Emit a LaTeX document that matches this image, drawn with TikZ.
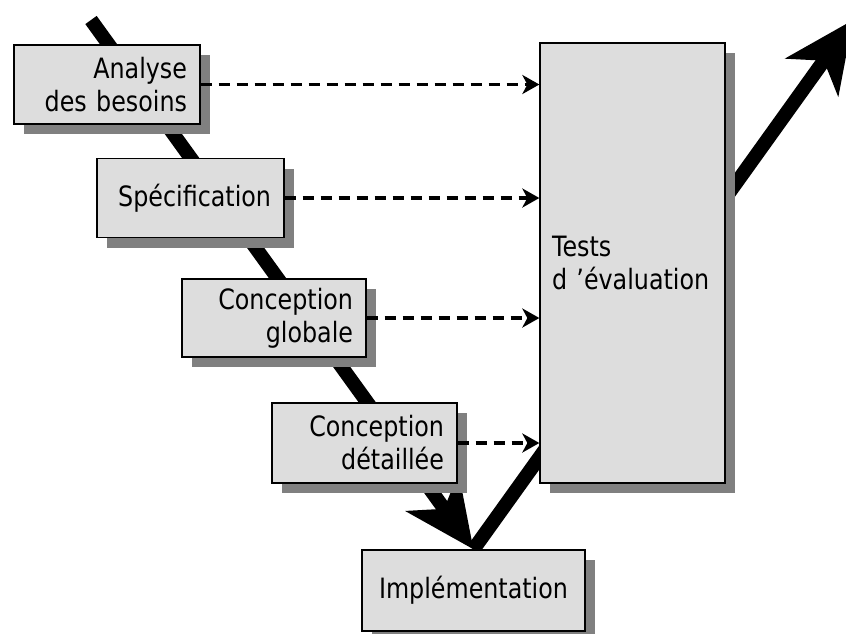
\documentclass[tikz,border=0pt]{standalone}
\usepackage{fontspec}
\setmainfont{DejaVu Sans}[FakeStretch=0.85]
\usetikzlibrary{arrows.meta,shadows,backgrounds}
\definecolor{boxgray}{HTML}{DDDDDD}
\definecolor{shadowgray}{HTML}{808080}
\begin{document}
\begin{tikzpicture}[x=1pt,y=-1pt,
  stagebox/.style={draw=black, line width=1.3pt, fill=boxgray,
    inner xsep=13pt, inner ysep=0pt,
    font=\fontsize{28}{33}\selectfont,
    general shadow={fill=shadowgray, shadow xshift=10pt, shadow yshift=-10pt}},
  rightbox/.style={stagebox, align=right},
  dasharrow/.style={draw=black, line width=3.6pt, dash pattern=on 11pt off 7pt,
    -{Stealth[length=17pt, width=19pt, inset=5pt]}},
  bigarrow/.style={draw=black, line width=14pt,
    -{Stealth[length=70pt, width=64pt, inset=20pt]}}]
\useasboundingbox (0,0) rectangle (846,633);

\node[rightbox, text width=160pt, minimum width=186pt, minimum height=79pt] (ana) at (107,84.5) {Analyse\\des besoins};
\node[rightbox, text width=161pt, minimum width=187pt, minimum height=79pt] (spec) at (190.5,198) {Spécification};
\node[rightbox, text width=158pt, minimum width=184pt, minimum height=78pt] (cg) at (274,318) {Conception\\globale};
\node[rightbox, text width=159pt, minimum width=185pt, minimum height=80pt] (cd) at (364.5,443) {Conception\\détaillée};
\node[stagebox, align=center, text width=197pt, minimum width=223pt, minimum height=81pt] (impl) at (473.5,590.5) {Implémentation};
\node[stagebox, align=left, inner xsep=12pt, text width=161pt, minimum width=185pt, minimum height=440pt] (tests) at (632.5,263) {Tests\\d ’évaluation};

\coordinate (vstart) at (91,20);
\coordinate (vend) at (853,20);

\begin{scope}[on background layer]
  \clip (0,0) rectangle (846,633);
  \draw[bigarrow] (vstart) -- (impl.north);
  \draw[bigarrow] (impl.north) -- (vend);
\end{scope}

\draw[dasharrow] (ana.east) -- (ana.east -| tests.west);
\draw[dasharrow] (spec.east) -- (spec.east -| tests.west);
\draw[dasharrow] (cg.east) -- (cg.east -| tests.west);
\draw[dasharrow] (cd.east) -- (cd.east -| tests.west);
\end{tikzpicture}
\end{document}
